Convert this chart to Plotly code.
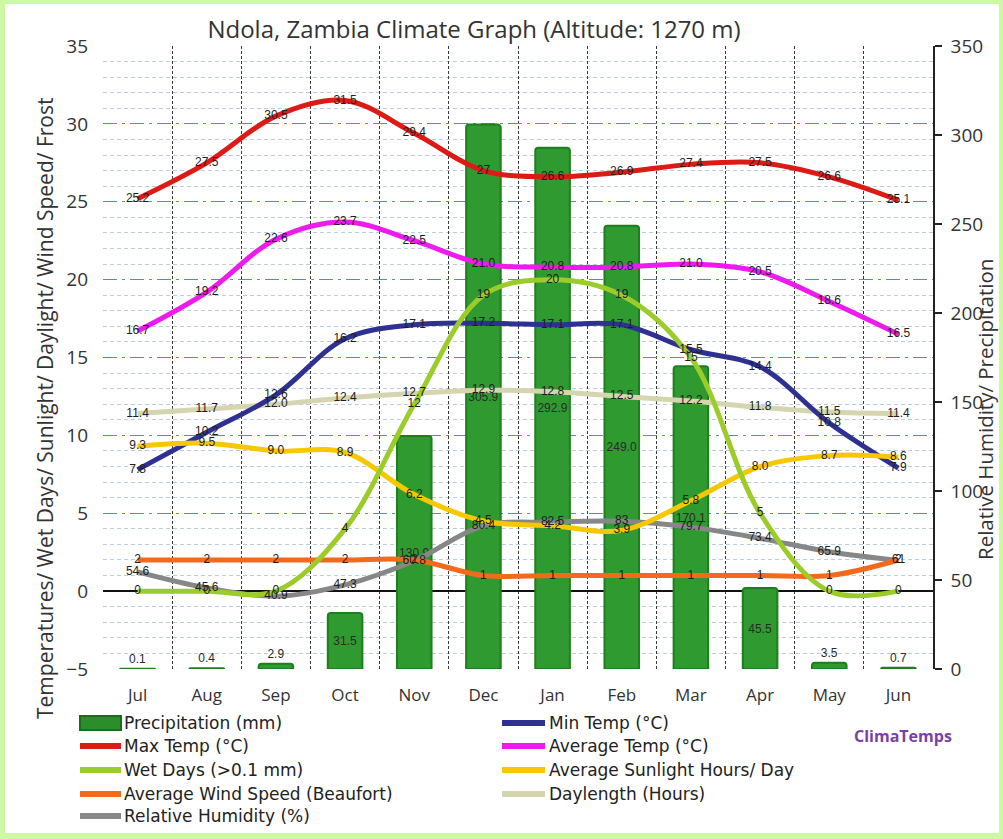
import plotly.graph_objects as go

months = ["Jul", "Aug", "Sep", "Oct", "Nov", "Dec", "Jan", "Feb", "Mar", "Apr", "May", "Jun"]
precip = [0.1, 0.4, 2.9, 31.5, 130.9, 305.9, 292.9, 249.0, 170.1, 45.5, 3.5, 0.7]
min_temp = [7.8, 10.2, 12.6, 16.2, 17.1, 17.2, 17.1, 17.1, 15.5, 14.4, 10.8, 7.9]
max_temp = [25.2, 27.5, 30.5, 31.5, 29.4, 27, 26.6, 26.9, 27.4, 27.5, 26.6, 25.1]
avg_temp = [16.7, 19.2, 22.6, 23.7, 22.5, 21.0, 20.8, 20.8, 21.0, 20.5, 18.6, 16.5]
wet_days = [0, 0, 0, 4, 12, 19, 20, 19, 15, 5, 0, 0]
sunlight = [9.3, 9.5, 9.0, 8.9, 6.2, 4.5, 4.2, 3.9, 5.8, 8.0, 8.7, 8.6]
wind = [2, 2, 2, 2, 2, 1, 1, 1, 1, 1, 1, 2]
daylength = [11.4, 11.7, 12.0, 12.4, 12.7, 12.9, 12.8, 12.5, 12.2, 11.8, 11.5, 11.4]
humidity = [54.6, 45.6, 40.9, 47.3, 60.8, 80.4, 82.5, 83, 79.7, 73.4, 65.9, 61]

# plot area in pixels
W, H = 1003, 839
L, R, T, B = 103, 933, 46, 669
PW, PH = R - L, B - T


def px_x(p):
    return (p - L) / PW


def px_y(p):
    return (B - p) / PH


LBL = dict(family="Liberation Sans, Arial", size=12, color="#1e1e1e")
LEGFONT = "DejaVu Sans, Liberation Sans, Arial"
TXTFONT = "Open Sans, Noto Sans"

PRECIP_NAME = "Precipitation (mm)"
HUM_NAME = "Relative Humidity (%)"
HUM_COLOR = "#878787"

fig = go.Figure()

# precipitation bars (main y axis, right side)
fig.add_trace(go.Bar(
    x=months, y=precip, yaxis="y", name=PRECIP_NAME, showlegend=False,
    marker=dict(color="#2f9a2f", line=dict(color="#1d7f1d", width=2), cornerradius=3),
    width=0.5,
    text=[f"{v:.1f}" for v in precip],
    textposition=["inside" if v > 20 else "outside" for v in precip],
    insidetextanchor="middle", textangle=0,
    textfont=dict(family="Liberation Sans, Arial", size=12, color="#2a2a2a"),
    cliponaxis=False,
))

# humidity line on main axis
fig.add_trace(go.Scatter(
    x=months, y=humidity, yaxis="y", mode="lines", name=HUM_NAME, showlegend=False,
    line=dict(color=HUM_COLOR, width=5, shape="spline"),
))

series = [
    ("Min Temp (°C)", min_temp, "#2e3192", lambda v: f"{v:.1f}"),
    ("Max Temp (°C)", max_temp, "#dd1a16", lambda v: f"{v}"),
    ("Average Temp (°C)", avg_temp, "#ee1aee", lambda v: f"{v:.1f}"),
    ("Wet Days (>0.1 mm)", wet_days, "#9bcc2a", lambda v: f"{v}"),
    ("Average Sunlight Hours/ Day", sunlight, "#f7c800", lambda v: f"{v:.1f}"),
    ("Average Wind Speed (Beaufort)", wind, "#f46a1c", lambda v: f"{v}"),
    ("Daylength (Hours)", daylength, "#d5d5b0", lambda v: f"{v:.1f}"),
]

draw_order = [6, 0, 2, 1, 4, 5, 3]
for i in draw_order:
    name, vals, col, fmt = series[i]
    fig.add_trace(go.Scatter(
        x=months, y=vals, yaxis="y2", mode="lines", name=name, showlegend=False,
        line=dict(color=col, width=5, shape="spline"),
    ))

for name, vals, col, fmt in series:
    fig.add_trace(go.Scatter(
        x=months, y=vals, yaxis="y2", mode="text", showlegend=False,
        text=[fmt(v) for v in vals], textposition="middle center", textfont=LBL,
        cliponaxis=False, hoverinfo="skip",
    ))

fig.add_trace(go.Scatter(
    x=months, y=humidity, yaxis="y3", mode="text", showlegend=False,
    text=[f"{v}" for v in humidity], textposition="middle center", textfont=LBL,
    cliponaxis=False, hoverinfo="skip",
))

# ---- legend drawn as shapes + text (two columns) ----
col_of = {s[0]: s[2] for s in series}
col_of[HUM_NAME] = HUM_COLOR
legend_left = [PRECIP_NAME, "Max Temp (°C)", "Wet Days (>0.1 mm)",
               "Average Wind Speed (Beaufort)", HUM_NAME]
legend_right = ["Min Temp (°C)", "Average Temp (°C)", "Average Sunlight Hours/ Day",
                "Daylength (Hours)"]
row_y = [723, 746, 770, 794, 816]
shapes = [dict(
    type="rect", xref="paper", yref="paper",
    x0=px_x(5), x1=px_x(999), y0=px_y(833), y1=px_y(4),
    fillcolor="white", line=dict(width=0), layer="below",
)]
annotations = []
for names, sx0, sx1, tx in [(legend_left, 80, 121, 122), (legend_right, 502, 545, 547)]:
    for name, yy in zip(names, row_y):
        if name == PRECIP_NAME:
            shapes.append(dict(type="rect", xref="paper", yref="paper",
                               x0=px_x(sx0), x1=px_x(sx1), y0=px_y(yy + 7), y1=px_y(yy - 7),
                               fillcolor="#2a8f2a", line=dict(color="#1a6e1a", width=2)))
        else:
            shapes.append(dict(type="line", xref="paper", yref="paper",
                               x0=px_x(sx0), x1=px_x(sx1), y0=px_y(yy), y1=px_y(yy),
                               line=dict(color=col_of[name], width=6)))
        annotations.append(dict(text=name, xref="paper", yref="paper",
                                x=px_x(tx), y=px_y(yy), xanchor="left", yanchor="middle",
                                showarrow=False,
                                font=dict(family=LEGFONT, size=17, color="#222222")))

annotations += [
    dict(text="Temperatures/ Wet Days/ Sunlight/ Daylight/ Wind Speed/ Frost",
         xref="paper", yref="paper", x=px_x(45), y=px_y(409),
         textangle=-90, showarrow=False, xanchor="center", yanchor="middle",
         font=dict(family=TXTFONT, size=21, color="#333333")),
    dict(text="Relative Humidity/ Precipitation",
         xref="paper", yref="paper", x=px_x(985), y=px_y(410),
         textangle=-90, showarrow=False, xanchor="center", yanchor="middle",
         font=dict(family=TXTFONT, size=20.5, color="#333333")),
    dict(text="<b>ClimaTemps</b>", xref="paper", yref="paper",
         x=px_x(903), y=px_y(736), showarrow=False, xanchor="center", yanchor="middle",
         font=dict(family=TXTFONT, size=16, color="#7a3fa8")),
]

tickfont = dict(family=TXTFONT, size=19, color="#333333")

fig.update_layout(
    width=W, height=H,
    margin=dict(l=L, r=W - R, t=T, b=H - B, pad=0, autoexpand=False),
    paper_bgcolor="#cdf9a3",
    plot_bgcolor="rgba(0,0,0,0)",
    barmode="overlay",
    showlegend=False,
    title=dict(
        text="Ndola, Zambia Climate Graph (Altitude: 1270 m)",
        x=474 / W, xanchor="center", xref="container",
        y=1 - 30 / H, yanchor="middle", yref="container",
        font=dict(family=TXTFONT, size=24, color="#333333"),
    ),
    xaxis=dict(
        type="category", tickson="boundaries", showgrid=True,
        gridcolor="#3a3a3a", gridwidth=1, griddash="3px,2px",
        ticks="", showline=False, zeroline=False, ticklabelstandoff=14,
        tickfont=dict(family=TXTFONT, size=17, color="#333333"),
        range=[-0.5, 11.5], automargin=False,
    ),
    yaxis=dict(
        side="right", range=[0, 350], dtick=50, tick0=0,
        showgrid=False, zeroline=False,
        showline=True, linecolor="#222222", linewidth=1.5,
        ticks="outside", ticklen=7, tickcolor="#222222", tickwidth=1.5,
        ticklabelstandoff=5, tickfont=tickfont, automargin=False,
    ),
    yaxis2=dict(
        overlaying="y", side="left", range=[-5, 35], dtick=5, tick0=0,
        showgrid=True, gridcolor="#5a8ac6", gridwidth=1.2, griddash="14px,5px,3px,5px",
        minor=dict(dtick=1, showgrid=True, gridcolor="#bccbdd", griddash="4px,3px", gridwidth=1),
        zeroline=True, zerolinecolor="#111111", zerolinewidth=1.5,
        showline=False, ticks="", ticklabelstandoff=14, tickfont=tickfont, automargin=False,
    ),
    yaxis3=dict(overlaying="y", range=[0, 350], visible=False),
    uniformtext=dict(mode="show", minsize=12),
    shapes=shapes,
    annotations=annotations,
)

fig.write_html("out.html")
